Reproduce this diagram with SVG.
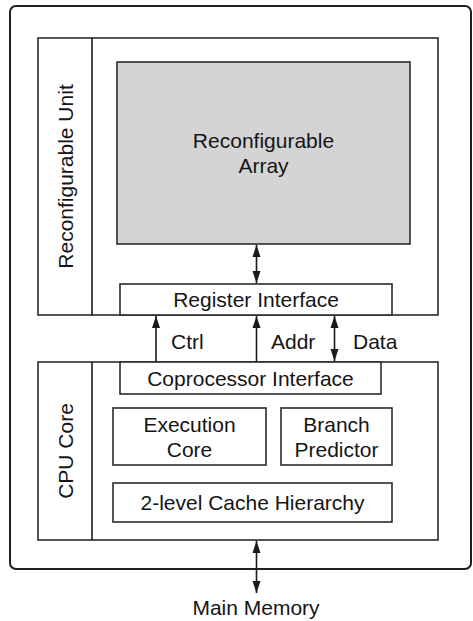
<svg xmlns="http://www.w3.org/2000/svg" width="473" height="621" viewBox="0 0 473 621">
<style>
.box{fill:#fff;stroke:#2b2b2b;stroke-width:1.6}
.t{font-family:"Liberation Sans",Arial,sans-serif;font-size:21px;fill:#151515;text-anchor:middle}
.tl{font-family:"Liberation Sans",Arial,sans-serif;font-size:21px;fill:#151515}
.c{stroke:#1a1a1a;stroke-width:1.6;fill:none}
</style>
<defs>
<marker id="ah" viewBox="0 0 12 10" refX="12" refY="5" markerWidth="12" markerHeight="10" markerUnits="userSpaceOnUse" orient="auto-start-reverse">
<path d="M0,1 L12,5 L0,9 Z" fill="#1a1a1a"/>
</marker>
</defs>
<rect id="system" x="10" y="6" width="461" height="563" rx="6" fill="#fff" stroke="#1f1f1f" stroke-width="2"/>
<g id="reconfigurable-unit">
<rect class="box" x="38" y="38" width="400" height="277"/>
<line class="c" x1="92" y1="38" x2="92" y2="315"/>
<text class="t" transform="translate(73,176.5) rotate(-90)">Reconfigurable Unit</text>
</g>
<g id="reconfigurable-array">
<rect x="117" y="62" width="293" height="182" fill="#d4d4d4" stroke="#2b2b2b" stroke-width="1.6"/>
<text class="t" x="263.5" y="148">Reconfigurable</text>
<text class="t" x="263.5" y="173">Array</text>
</g>
<g id="register-interface">
<rect class="box" x="120" y="284" width="272" height="31"/>
<text class="t" x="256" y="307">Register Interface</text>
</g>
<g id="cpu-core">
<rect class="box" x="38" y="362" width="400" height="178"/>
<line class="c" x1="92" y1="362" x2="92" y2="540"/>
<text class="t" transform="translate(73,451) rotate(-90)">CPU Core</text>
</g>
<g id="coprocessor-interface">
<rect class="box" x="120" y="362" width="261" height="32"/>
<text class="t" x="250.5" y="386">Coprocessor Interface</text>
</g>
<g id="execution-core">
<rect class="box" x="113" y="408" width="153" height="57"/>
<text class="t" x="189.5" y="432">Execution</text>
<text class="t" x="189.5" y="457">Core</text>
</g>
<g id="branch-predictor">
<rect class="box" x="281" y="408" width="111" height="57"/>
<text class="t" x="336.5" y="432">Branch</text>
<text class="t" x="336.5" y="457">Predictor</text>
</g>
<g id="cache-hierarchy">
<rect class="box" x="113" y="483" width="279" height="39"/>
<text class="t" x="252.5" y="510">2-level Cache Hierarchy</text>
</g>
<g id="main-memory">
<text class="t" x="256" y="615">Main Memory</text>
</g>
<g id="connectors">
<line class="c" x1="256.5" y1="245" x2="256.5" y2="283" marker-start="url(#ah)" marker-end="url(#ah)"/>
<line class="c" x1="156" y1="362" x2="156" y2="316" marker-end="url(#ah)"/>
<line class="c" x1="256.5" y1="362" x2="256.5" y2="316" marker-end="url(#ah)"/>
<line class="c" x1="334.5" y1="316" x2="334.5" y2="361" marker-start="url(#ah)" marker-end="url(#ah)"/>
<line class="c" x1="256.5" y1="541" x2="256.5" y2="593" marker-start="url(#ah)" marker-end="url(#ah)"/>
<text class="tl" x="171" y="349">Ctrl</text>
<text class="tl" x="271" y="349">Addr</text>
<text class="tl" x="353" y="349">Data</text>
</g>
</svg>
